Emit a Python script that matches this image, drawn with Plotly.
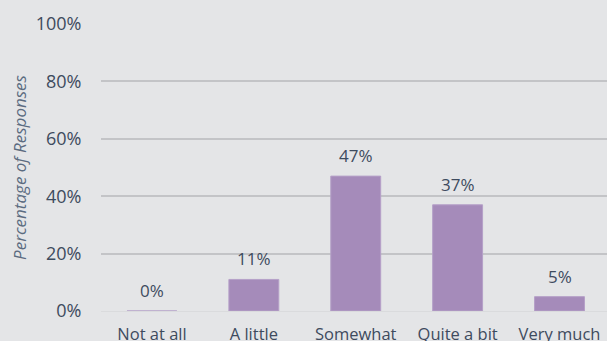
import plotly.graph_objects as go

categories = ["Not at all", "A little", "Somewhat", "Quite a bit", "Very much"]
values = [0, 11, 47, 37, 5]
labels = ["0%", "11%", "47%", "37%", "5%"]
y_ticks = [0, 20, 40, 60, 80, 100]
y_ticktext = ["0%", "20%", "40%", "60%", "80%", "100%"]

bg = "#e4e5e7"
txt = "#3e4b5e"
FONT = "Open Sans"

xs = list(range(len(categories)))

fig = go.Figure(go.Bar(
    x=xs,
    y=values,
    marker=dict(color="#a58bba", line=dict(color="#b5a0c8", width=1)),
))

for xi, v, lab in zip(xs, values, labels):
    fig.add_annotation(x=xi, y=v, text=lab, showarrow=False,
                       yanchor="bottom", yshift=7,
                       font=dict(family=FONT, size=17, color=txt))

fig.update_layout(
    width=607, height=341,
    margin=dict(l=101, r=0, t=24, b=30),
    paper_bgcolor=bg, plot_bgcolor=bg,
    bargap=0.51,
    showlegend=False,
    font=dict(family=FONT, color=txt),
)
fig.update_xaxes(
    automargin=False,
    range=[-0.5, 4.466],
    tickmode="array",
    tickvals=xs,
    ticktext=categories,
    tickfont=dict(family=FONT, size=16.5, color=txt),
    showgrid=False, zeroline=False, showline=False,
    ticks="outside", ticklen=8, tickcolor=bg,
)
fig.update_yaxes(
    automargin=False,
    range=[0, 100],
    tickmode="array",
    tickvals=y_ticks,
    ticktext=y_ticktext,
    tickfont=dict(family=FONT, size=18, color=txt),
    showgrid=True, gridcolor="#c3c4c7", gridwidth=1.5,
    zeroline=True, zerolinecolor="#dadbdd", zerolinewidth=1,
    showline=False,
    ticks="outside", ticklen=15, tickcolor=bg,
    title=dict(text="<i>Percentage of Responses</i>",
               font=dict(family=FONT, size=17, color="#5b6b80"),
               standoff=4),
)

fig.write_html("out.html")
